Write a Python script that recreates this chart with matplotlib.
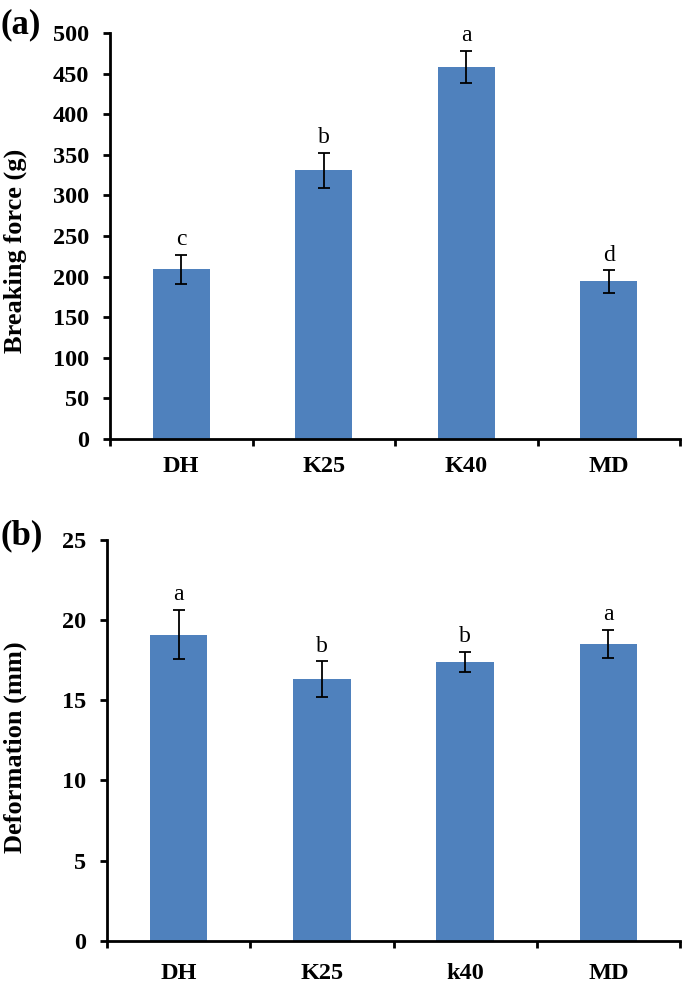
import matplotlib
matplotlib.use("Agg")
import matplotlib.pyplot as plt
import numpy as np

plt.rcParams['font.family'] = ['Liberation Serif', 'DejaVu Serif']

# Panel (a)
cats_a = ["DH", "K25", "K40", "MD"]
force_mean = [209, 331, 458, 194]
force_err = [17.5, 21.5, 20, 13.7]
force_letters = ["c", "b", "a", "d"]

# Panel (b)
cats_b = ["DH", "K25", "k40", "MD"]
deform_mean = [19.09, 16.33, 17.39, 18.51]
deform_err = [1.53, 1.1, 0.65, 0.9]
deform_letters = ["a", "b", "b", "a"]

BAR = "#4F81BD"
W, H = 685, 986
fig = plt.figure(figsize=(W / 100, H / 100), dpi=100)

def make_panel(rect, cats, means, errs, letters, ymax, ystep, ylabel, tag, tag_xy, ylab_xy, xpad):
    ax = fig.add_axes(rect)
    x = np.arange(len(cats))
    ax.bar(x, means, width=0.4, color=BAR, zorder=2)
    ax.errorbar(x, means, yerr=errs, fmt="none", ecolor="black", elinewidth=1.3,
                capsize=4.5, capthick=1.3, zorder=3)
    for xi, m, e, l in zip(x, means, errs, letters):
        ax.annotate(l, (xi, m + e), xytext=(0, 7), textcoords="offset points",
                    ha="center", va="baseline", fontsize=17)
    ax.set_xlim(-0.5, len(cats) - 0.5)
    ax.set_ylim(0, ymax)
    ax.set_yticks(np.arange(0, ymax + ystep / 2, ystep))
    ax.set_xticks(x)
    ax.set_xticklabels(cats, fontsize=17.5, fontweight="bold")
    ax.set_xticks(np.arange(-0.5, len(cats), 1.0), minor=True)
    ax.tick_params(axis="x", which="major", length=0, pad=xpad)
    ax.tick_params(axis="x", which="minor", length=5, width=2.0, direction="out")
    ax.tick_params(axis="y", length=5, width=2.0, direction="out", labelsize=17.5, pad=10)
    for lab in ax.get_yticklabels():
        lab.set_fontweight("bold")
    for s in ["top", "right"]:
        ax.spines[s].set_visible(False)
    for s in ["left", "bottom"]:
        ax.spines[s].set_linewidth(2.0)
    fig.text(ylab_xy[0] / W, 1 - ylab_xy[1] / H, ylabel, rotation=90, ha="center", va="center",
             fontsize=19, fontweight="bold")
    fig.text(tag_xy[0] / W, 1 - tag_xy[1] / H, tag, ha="left", va="center",
             fontsize=25, fontweight="bold")
    return ax

make_panel([110 / W, 1 - 439 / H, 570 / W, 406 / H], cats_a, force_mean, force_err, force_letters,
           500, 50, "Breaking force (g)", "(a)", (0, 25), (15, 251), 12)
make_panel([107 / W, 1 - 940.7 / H, 573 / W, 400.7 / H], cats_b, deform_mean, deform_err, deform_letters,
           25, 5, "Deformation (mm)", "(b)", (0, 536), (15, 747), 16)

fig.savefig("out.png", dpi=100)
